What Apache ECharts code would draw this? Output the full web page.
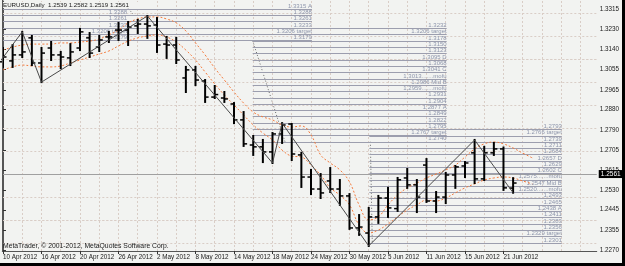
<!DOCTYPE html>
<html>
<head>
<meta charset="utf-8">
<script src="https://cdn.jsdelivr.net/npm/echarts@6.0.0/dist/echarts.min.js"></script>
<style>
html,body{margin:0;padding:0;background:#000;}
#chart{width:622px;height:263px;background:#f2f3f1;}
</style>
</head>
<body>
<div id="chart"></div>
<script>
// daily bars, index 0 = 10 Apr 2012
const barOpen  = [1.3087,1.3091,1.3117,1.3191,1.3082,1.3147,1.3117,1.3104,1.3147,1.3191,1.3151,1.3195,1.3225,1.3225,1.3243,1.3251,1.3247,1.3164,1.3160,1.3017,1.3052,1.3004,1.2934,1.2930,1.2904,1.2835,1.2726,1.2718,1.2696,1.2774,1.2817,1.2683,1.2587,1.2535,1.2570,1.2535,1.2505,1.2366,1.2344,1.2414,1.2496,1.2450,1.2583,1.2553,1.2639,1.2483,1.2500,1.2596,1.2635,1.2692,1.2579,1.2692,1.2709,1.2539]
const barHigh  = [1.3147,1.3160,1.3217,1.3199,1.3147,1.3173,1.3130,1.3164,1.3230,1.3212,1.3199,1.3217,1.3256,1.3260,1.3269,1.3286,1.3277,1.3195,1.3191,1.3065,1.3065,1.3008,1.2982,1.2956,1.2908,1.2869,1.2765,1.2748,1.2778,1.2821,1.2817,1.2692,1.2618,1.2600,1.2626,1.2574,1.2513,1.2422,1.2453,1.2505,1.2540,1.2583,1.2622,1.2574,1.2665,1.2522,1.2605,1.2635,1.2652,1.2748,1.2718,1.2735,1.2715,1.2582]
const barLow   = [1.3065,1.3065,1.3108,1.3073,1.2999,1.3095,1.3060,1.3073,1.3138,1.3108,1.3134,1.3173,1.3182,1.3160,1.3212,1.3191,1.3130,1.3104,1.3082,1.2956,1.2986,1.2913,1.2930,1.2913,1.2821,1.2722,1.2683,1.2652,1.2648,1.2735,1.2661,1.2544,1.2513,1.2496,1.2522,1.2466,1.2362,1.2336,1.2288,1.2388,1.2414,1.2440,1.2540,1.2435,1.2479,1.2435,1.2474,1.2540,1.2587,1.2561,1.2574,1.2683,1.2531,1.2519]
const barClose = [1.3108,1.3117,1.3130,1.3082,1.3125,1.3117,1.3108,1.3130,1.3217,1.3125,1.3182,1.3195,1.3225,1.3238,1.3251,1.3243,1.3160,1.3160,1.3095,1.3052,1.3008,1.2934,1.2945,1.2926,1.2835,1.2731,1.2718,1.2696,1.2774,1.2813,1.2687,1.2587,1.2535,1.2518,1.2535,1.2505,1.2366,1.2370,1.2414,1.2496,1.2453,1.2575,1.2553,1.2500,1.2483,1.2500,1.2596,1.2631,1.2648,1.2579,1.2692,1.2709,1.2540,1.2561]

// envelope curves (orange dotted)
const envUpper = [1.3138,1.3151,1.3160,1.3164,1.3164,1.3164,1.3169,1.3169,1.3173,1.3177,1.3186,1.3204,1.3225,1.3256,1.3273,1.3282,1.3282,1.3273,1.3256,1.3221,1.3169,1.3117,1.3060,1.3008,1.2956,1.2908,1.2869,1.2848,1.2835,1.2813,1.2804,1.2809,1.2770,1.2683,1.2648,1.2618,1.2566,1.2466,1.2401,1.2414,1.2466,1.2509,1.2540,1.2561,1.2583,1.2600,1.2618,1.2639,1.2674,1.2709,1.2731,1.2739,1.2731,1.2713,1.2691,1.2670]
const envLower = [1.3052,1.3065,1.3073,1.3069,1.3065,1.3065,1.3069,1.3082,1.3095,1.3108,1.3121,1.3134,1.3156,1.3177,1.3191,1.3199,1.3204,1.3195,1.3173,1.3138,1.3095,1.3043,1.2991,1.2943,1.2900,1.2856,1.2813,1.2778,1.2748,1.2704,1.2678,1.2674,1.2639,1.2596,1.2540,1.2509,1.2466,1.2379,1.2344,1.2357,1.2383,1.2414,1.2444,1.2466,1.2487,1.2483,1.2496,1.2518,1.2540,1.2557,1.2574,1.2583,1.2587,1.2583,1.2570,1.2557]

// zigzag turning points
const zigIdx   = [-1, 2, 4, 15, 28, 29, 38, 49, 53]
const zigPrice = [1.3050,1.3217,1.2999,1.3286,1.2648,1.2821,1.2288,1.2748,1.2519]

// fibo objects
const fibTopLevels = [1.3315,1.3288,1.3261,1.3233,1.3206,1.3179]
const fibTopTags   = [' A','','','',' target','']
const fibMidLevels = [1.3232,1.3206,1.3178,1.3150,1.3123,1.3095,1.3068,1.3041,1.3013,1.2986,1.2959,1.2931,1.2904,1.2877,1.2849,1.2822,1.2795,1.2767,1.2740]
const fibMidTags   = ['',' target','','','',' D','',' C','.......mofu',' Mid B','.......mofu','','',' A','','','',' target','']
const fibLowLevels = [1.2793,1.2766,1.2739,1.2711,1.2684,1.2657,1.2629,1.2602,1.2575,1.2547,1.2520,1.2493,1.2465,1.2438,1.2411,1.2383,1.2356,1.2329,1.2301]
const fibLowTags   = fibMidTags

const yTicks = [1.3315,1.3230,1.3140,1.3055,1.2965,1.2880,1.2790,1.2705,1.2615,1.2530,1.2445,1.2355,1.2270]
const xLabelIdx = [0,4,8,12,16,20,24,28,32,36,40,44,48,52]
const xLabels = ['10 Apr 2012','16 Apr 2012','20 Apr 2012','26 Apr 2012','2 May 2012','8 May 2012','14 May 2012','18 May 2012','24 May 2012','30 May 2012','5 Jun 2012','11 Jun 2012','15 Jun 2012','21 Jun 2012']
const bidPrice = 1.2561

const font = 'Liberation Sans'
const xMin = -0.07, xMax = 61.69

var chart = echarts.init(document.getElementById('chart'))

const ohlc = barOpen.map((o,i)=>[i,o,barHigh[i],barLow[i],barClose[i]])
const last = barOpen.length-1

function fibLines(levels, tags, x0, x1){
  return levels.map((lv,i)=>[
    {coord:[x0,lv], name: lv.toFixed(4)+tags[i]},
    {coord:[x1,lv]}
  ])
}

const gridLines = []
yTicks.forEach(v=>gridLines.push({yAxis:v}))
for(let i=2;i<=60;i+=2) gridLines.push({xAxis:i})

const fibStyle = {color:'#9c9eae', width:1, type:'solid'}
const fibLabel = {show:true, position:'insideEndTop', formatter:'{b}', fontSize:6, color:'#8e96ac', fontFamily:font, distance:[0,0]}

function fibSeries(levels,tags,x0,x1){
  return {
    type:'line', data:[], silent:true, z:2,
    markLine:{symbol:['none','none'], animation:false, silent:true,
      lineStyle:fibStyle, label:fibLabel, emphasis:{disabled:true},
      data:fibLines(levels,tags,x0,x1)}
  }
}

var option = {
  animation:false,
  grid:{left:2, top:1, right:24, bottom:12, show:false},
  xAxis:{
    type:'value', min:xMin, max:xMax,
    axisLine:{show:true, onZero:false, lineStyle:{color:'#555', width:1}},
    axisTick:{show:true, customValues:xLabelIdx, length:3, lineStyle:{color:'#333'}},
    axisLabel:{customValues:xLabelIdx, align:'left', margin:3, fontSize:6.3, color:'#1a1a1a', fontFamily:font,
      formatter:v=>xLabels[xLabelIdx.indexOf(Math.round(v))] || ''},
    splitLine:{show:false}
  },
  yAxis:{
    type:'value', position:'right', min:1.2266, max:1.3351, scale:true,
    axisLine:{show:true, lineStyle:{color:'#555', width:1}},
    axisTick:{show:true, customValues:yTicks, length:3, lineStyle:{color:'#333'}},
    axisLabel:{customValues:yTicks, margin:3, fontSize:6.3, color:'#1a1a1a', fontFamily:font,
      formatter:v=>v.toFixed(4)},
    splitLine:{show:false}
  },
  graphic:[
    {type:'line', shape:{x1:2.5,y1:0,x2:2.5,y2:251}, style:{stroke:'#555', lineWidth:1}, z:100},
    {type:'text', left:3, top:2, z:100, style:{
      text:'EURUSD,Daily  '+[barOpen[last],barHigh[last],barLow[last],barClose[last]].map(v=>v.toFixed(4)).join(' '),
      fontSize:6.2, fill:'#1a1a1a', fontFamily:font, backgroundColor:'#f2f3f1', padding:[0,14,0,0]}},
    {type:'text', left:3, top:243, z:100, style:{
      text:'MetaTrader, \u00a9 2001-2012, MetaQuotes Software Corp.', fontSize:6.8, fill:'#1a1a1a', fontFamily:font}}
  ],
  series:[
    { // grid
      type:'line', data:[], silent:true, z:1,
      markLine:{symbol:['none','none'], animation:false, silent:true, label:{show:false},
        lineStyle:{color:'#d9cdc6', width:1, type:[2,2]}, emphasis:{disabled:true},
        data:gridLines}
    },
    fibSeries(fibTopLevels, fibTopTags, xMin, 12.9),
    fibSeries(fibTopLevels, fibTopTags, xMin, 32.1),
    fibSeries(fibMidLevels, fibMidTags, 25.94, 46.1),
    fibSeries(fibLowLevels, fibLowTags, 38.06, 58.06),
    { // bid line
      type:'line', data:[], silent:true, z:3,
      markLine:{symbol:['none','none'], animation:false, silent:true, emphasis:{disabled:true},
        lineStyle:{color:'#a0a0a0', width:1, type:'solid'},
        label:{show:true, position:'end', distance:2, formatter:bidPrice.toFixed(4), backgroundColor:'#000',
          color:'#fff', padding:[1,2,0,2], fontSize:6.5, fontFamily:font},
        data:[{yAxis:bidPrice}]}
    },
    { // fibo anchor lines
      type:'line', data:[[25.94,1.3179],[29.3,1.2740]], showSymbol:false, z:4, silent:true,
      lineStyle:{color:'#666', width:1, type:[1,2]}
    },
    {
      type:'line', data:[[38.17,1.2740],[38.37,1.2301]], showSymbol:false, z:4, silent:true,
      lineStyle:{color:'#666', width:1, type:[1,2]}
    },
    {
      type:'line', data:[[12.4,1.3347],[13.5,1.3295]], showSymbol:false, z:4, silent:true,
      lineStyle:{color:'#666', width:1, type:[1,2]}
    },
    { // envelope
      type:'line', data:envUpper.map((v,i)=>[i,v]), showSymbol:false, smooth:0.4, z:5, silent:true,
      lineStyle:{color:'#f47a3c', width:1, type:[2,2]}
    },
    {
      type:'line', data:envLower.map((v,i)=>[i,v]), showSymbol:false, smooth:0.4, z:5, silent:true,
      lineStyle:{color:'#f47a3c', width:1, type:[2,2]}
    },
    { // bars
      type:'custom', data:ohlc, z:6, silent:true,
      encode:{x:0, y:[1,2,3,4]},
      renderItem:function(params, api){
        const x = api.value(0)
        const pH = api.coord([x, api.value(2)])
        const pL = api.coord([x, api.value(3)])
        const pO = api.coord([x, api.value(1)])
        const pC = api.coord([x, api.value(4)])
        const st = {stroke:'#000', lineWidth:2}
        return {type:'group', children:[
          {type:'line', shape:{x1:pH[0],y1:pH[1]-1,x2:pL[0],y2:pL[1]+1}, style:st},
          {type:'line', shape:{x1:pO[0]-3.5,y1:pO[1],x2:pO[0],y2:pO[1]}, style:{stroke:'#000', lineWidth:1.5}},
          {type:'line', shape:{x1:pC[0],y1:pC[1],x2:pC[0]+3.5,y2:pC[1]}, style:{stroke:'#000', lineWidth:1.5}}
        ]}
      }
    },
    { // zigzag
      type:'line', data:zigIdx.map((x,i)=>[x,zigPrice[i]]), showSymbol:false, z:7, silent:true, clip:true,
      lineStyle:{color:'#4a4a4a', width:1}
    }
  ]
}

chart.setOption(option)
</script>
</body>
</html>
